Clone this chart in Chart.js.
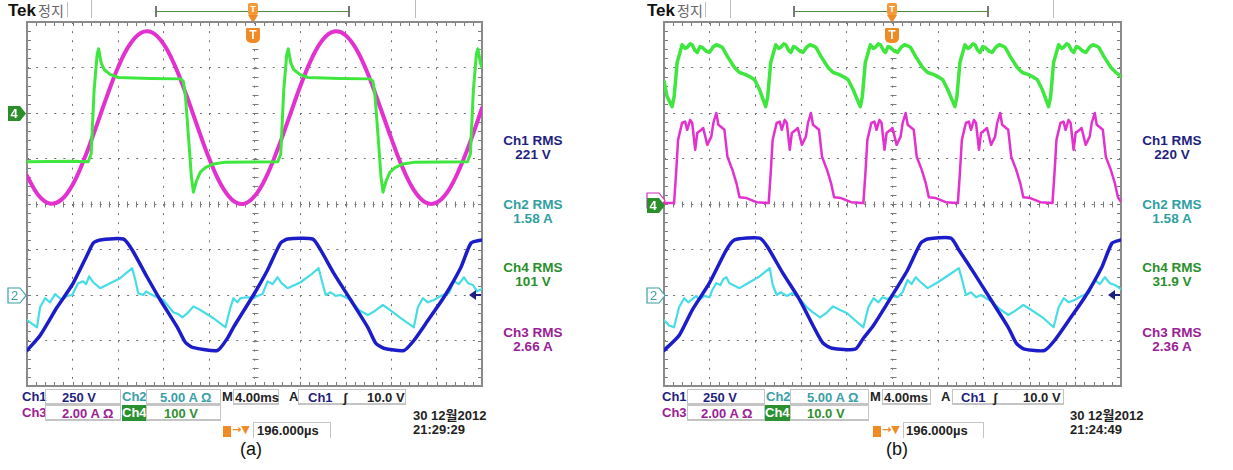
<!DOCTYPE html>
<html lang="ko">
<head>
<meta charset="utf-8">
<title>Tek 정지 - (a) / (b)</title>
<script src="https://cdn.jsdelivr.net/npm/chart.js@4.4.1/dist/chart.umd.min.js"></script>
<style>
  html, body { margin: 0; padding: 0; background: #fff; }
  #page { position: relative; width: 1233px; height: 470px; overflow: hidden; font-family: "Liberation Sans", "Noto Sans CJK KR", sans-serif; }
  .abs { position: absolute; white-space: nowrap; }
  .scope { position: absolute; top: 20px; }
  .tek { font: bold 17px/18px "Liberation Sans"; color: #111; top: 2px; }
  .stop { font: 14px/18px "Noto Sans CJK KR"; color: #666; top: 1px; }
  .vsep { position: absolute; top: 0; width: 1px; height: 18px; background: #bdbdbd; }
  .bracket { position: absolute; top: 6px; height: 11px; border-left: 2px solid #777; border-right: 2px solid #777; }
  .bracket::after { content: ""; position: absolute; left: 0; right: 0; top: 5px; height: 1px; background: #4f8a3f; }
  .pin { position: absolute; top: 3px; width: 10px; height: 12px; background: #f29a3a; color: #fff; font: bold 9px/12px "Liberation Sans"; text-align: center; border-radius: 2px; }
  .pin-tri { position: absolute; top: 15px; width: 0; height: 0; border-left: 5px solid transparent; border-right: 5px solid transparent; border-top: 8px solid #f08a24; }
  .tbox { position: absolute; top: 28px; width: 14px; height: 15px; background: #f08a24; color: #fff; font: bold 12px/15px "Liberation Sans"; text-align: center; border-radius: 1px 1px 5px 5px; z-index: 2; }
  .rms { font: bold 13.5px/14px "Liberation Sans"; text-align: center; width: 90px; }
  .lbl { font: bold 13px/16px "Liberation Sans"; }
  .box { position: absolute; height: 16px; border: 1px solid #c4c4c4; border-bottom-width: 2px; font: bold 13px/15px "Liberation Sans"; box-sizing: border-box; white-space: nowrap; }
  .box span { position: absolute; top: 0; }
  .date { font: bold 13px/14px "Liberation Sans", "Noto Sans CJK KR"; color: #222; }
  .cap { font: 18px/20px "Liberation Sans"; color: #111; }
  .ticon { position: absolute; width: 8px; height: 11px; background: #f08a24; }
  .orange { color: #f08a24; font: bold 11px/14px "DejaVu Sans"; }
  svg.mk { position: absolute; overflow: visible; z-index: 2; }
</style>
</head>
<body>
<div id="page">

  <!-- ===== panel (a) ===== -->
  <div class="abs tek" style="left:8px">Tek</div>
  <div class="abs stop" style="left:38px">정지</div>
  <div class="vsep" style="left:67px;top:2px;height:15px"></div>
  <div class="vsep" style="left:91px"></div>
  <div class="vsep" style="left:415px"></div>
  <div class="bracket" style="left:155px;width:191px"></div>
  <div class="pin" style="left:248px">T</div>
  <div class="pin-tri" style="left:248px"></div>
  <div class="tbox" style="left:246px">T</div>

  <div class="scope" style="left:25px"><canvas id="scopeA" width="459" height="368"></canvas></div>

  <svg class="mk" style="left:7px;top:105px" width="20" height="17">
    <polygon points="1,1 13,1 19,8.5 13,16 1,16" fill="#2a8f2a"/>
    <text x="7" y="13" fill="#fff" font-family="Liberation Sans" font-weight="bold" font-size="13" text-anchor="middle">4</text>
  </svg>
  <svg class="mk" style="left:7px;top:287px" width="20" height="17">
    <polygon points="1,1 13,1 19,8.5 13,16 1,16" fill="#fff" stroke="#3aa0a8" stroke-width="1.2"/>
    <text x="7.5" y="13" fill="#3aa0a8" font-family="Liberation Sans" font-size="13" text-anchor="middle">2</text>
  </svg>
  <svg class="mk" style="left:468px;top:289px" width="14" height="12">
    <polygon points="1,6 8,1 8,11" fill="#1f1f80"/>
    <line x1="7" y1="6" x2="13" y2="6" stroke="#1f1f80" stroke-width="2"/>
  </svg>

  <div class="abs rms" style="left:488px;top:134px;color:#1f1f80">Ch1 RMS<br>221 V</div>
  <div class="abs rms" style="left:488px;top:198px;color:#2f9fa3">Ch2 RMS<br>1.58 A</div>
  <div class="abs rms" style="left:488px;top:261px;color:#2a8f2a">Ch4 RMS<br>101 V</div>
  <div class="abs rms" style="left:488px;top:326px;color:#9a2096">Ch3 RMS<br>2.66 A</div>

  <div class="abs lbl" style="left:22px;top:389px;color:#1f1f80">Ch1</div>
  <div class="box" style="left:45px;top:389px;width:76px"><span style="left:16px;color:#1f1f80">250 V</span></div>
  <div class="abs lbl" style="left:122px;top:389px;color:#3aa0a8">Ch2</div>
  <div class="box" style="left:146px;top:389px;width:75px"><span style="left:13px;color:#3aa0a8">5.00 A Ω</span></div>
  <div class="abs lbl" style="left:222px;top:389px;color:#222">M</div>
  <div class="box" style="left:233px;top:389px;width:46px"><span style="left:1px;color:#222">4.00ms</span></div>
  <div class="abs lbl" style="left:289px;top:389px;color:#222">A</div>
  <div class="box" style="left:298px;top:389px;width:108px"><span style="left:9px;color:#1f1f80">Ch1</span><span style="left:44px;color:#222">ʃ</span><span style="left:68px;color:#222">10.0 V</span></div>

  <div class="abs lbl" style="left:22px;top:405px;color:#9a2096">Ch3</div>
  <div class="box" style="left:45px;top:405px;width:76px"><span style="left:16px;color:#9a2096">2.00 A Ω</span></div>
  <div class="abs lbl" style="left:122px;top:405px;width:24px;background:#2a9030;color:#fff">Ch4</div>
  <div class="box" style="left:146px;top:405px;width:75px"><span style="left:17px;color:#2f8f2f">100 V</span></div>

  <div class="ticon" style="left:223px;top:426px"></div>
  <div class="abs orange" style="left:232px;top:423px">→▼</div>
  <div class="box" style="left:253px;top:422px;width:78px;border-bottom:0"><span style="left:3px;color:#222">196.000µs</span></div>

  <div class="abs date" style="left:413px;top:409px">30 12월2012</div>
  <div class="abs date" style="left:413px;top:423px">21:29:29</div>
  <div class="abs cap" style="left:240px;top:439px">(a)</div>

  <!-- ===== panel (b) ===== -->
  <div class="abs tek" style="left:647px">Tek</div>
  <div class="abs stop" style="left:677px">정지</div>
  <div class="vsep" style="left:705px;top:2px;height:15px"></div>
  <div class="vsep" style="left:730px"></div>
  <div class="vsep" style="left:1053px"></div>
  <div class="bracket" style="left:793px;width:192px"></div>
  <div class="pin" style="left:887px">T</div>
  <div class="pin-tri" style="left:887px"></div>
  <div class="tbox" style="left:885px">T</div>

  <div class="scope" style="left:662px"><canvas id="scopeB" width="461" height="368"></canvas></div>

  <svg class="mk" style="left:646px;top:192px" width="20" height="17">
    <polygon points="1,1 13,1 19,8.5 13,16 1,16" fill="#fff" stroke="#d030c0" stroke-width="1.2"/>
  </svg>
  <svg class="mk" style="left:646px;top:197px" width="20" height="17">
    <polygon points="1,1 13,1 19,8.5 13,16 1,16" fill="#2a8f2a"/>
    <text x="7" y="13" fill="#fff" font-family="Liberation Sans" font-weight="bold" font-size="13" text-anchor="middle">4</text>
  </svg>
  <svg class="mk" style="left:646px;top:287px" width="20" height="17">
    <polygon points="1,1 13,1 19,8.5 13,16 1,16" fill="#fff" stroke="#3aa0a8" stroke-width="1.2"/>
    <text x="7.5" y="13" fill="#3aa0a8" font-family="Liberation Sans" font-size="13" text-anchor="middle">2</text>
  </svg>
  <svg class="mk" style="left:1107px;top:289px" width="14" height="12">
    <polygon points="1,6 8,1 8,11" fill="#1f1f80"/>
    <line x1="7" y1="6" x2="13" y2="6" stroke="#1f1f80" stroke-width="2"/>
  </svg>

  <div class="abs rms" style="left:1127px;top:134px;color:#1f1f80">Ch1 RMS<br>220 V</div>
  <div class="abs rms" style="left:1127px;top:198px;color:#2f9fa3">Ch2 RMS<br>1.58 A</div>
  <div class="abs rms" style="left:1127px;top:261px;color:#2a8f2a">Ch4 RMS<br>31.9 V</div>
  <div class="abs rms" style="left:1127px;top:326px;color:#9a2096">Ch3 RMS<br>2.36 A</div>

  <div class="abs lbl" style="left:662px;top:389px;color:#1f1f80">Ch1</div>
  <div class="box" style="left:687px;top:389px;width:78px"><span style="left:15px;color:#1f1f80">250 V</span></div>
  <div class="abs lbl" style="left:766px;top:389px;color:#3aa0a8">Ch2</div>
  <div class="box" style="left:790px;top:389px;width:79px"><span style="left:16px;color:#3aa0a8">5.00 A Ω</span></div>
  <div class="abs lbl" style="left:870px;top:389px;color:#222">M</div>
  <div class="box" style="left:882px;top:389px;width:49px"><span style="left:1px;color:#222">4.00ms</span></div>
  <div class="abs lbl" style="left:941px;top:389px;color:#222">A</div>
  <div class="box" style="left:952px;top:389px;width:112px"><span style="left:8px;color:#1f1f80">Ch1</span><span style="left:40px;color:#222">ʃ</span><span style="left:70px;color:#222">10.0 V</span></div>

  <div class="abs lbl" style="left:662px;top:405px;color:#9a2096">Ch3</div>
  <div class="box" style="left:687px;top:405px;width:78px"><span style="left:13px;color:#9a2096">2.00 A Ω</span></div>
  <div class="abs lbl" style="left:765px;top:405px;width:25px;background:#2a9030;color:#fff">Ch4</div>
  <div class="box" style="left:790px;top:405px;width:79px"><span style="left:16px;color:#2f8f2f">10.0 V</span></div>

  <div class="ticon" style="left:873px;top:426px"></div>
  <div class="abs orange" style="left:882px;top:423px">→▼</div>
  <div class="box" style="left:903px;top:422px;width:81px;border-bottom:0"><span style="left:2px;color:#222">196.000µs</span></div>

  <div class="abs date" style="left:1070px;top:409px">30 12월2012</div>
  <div class="abs date" style="left:1070px;top:423px">21:24:49</div>
  <div class="abs cap" style="left:886px;top:439px">(b)</div>
</div>

<script>
// Tiempo en ms (4.00 ms/div, centro = 0), valores en divisiones de pantalla (-4 .. 4)

// ---- panel (a) ----
const ch1a = [[-20,-3.22],[-18.85,-2.89],[-17.36,-2.27],[-16.03,-1.78],[-14.71,-1.12],[-14.18,-0.86],[-13.57,-0.79],[-11.54,-0.77],[-10.75,-1.01],[-9.43,-1.61],[-8.28,-2.11],[-6.78,-2.71],[-6.08,-3.04],[-5.46,-3.15],[-3.26,-3.22],[-2.38,-2.95],[-1.85,-2.71],[-0.09,-2.0],[1.15,-1.45],[2.29,-0.86],[2.91,-0.77],[5.11,-0.77],[5.81,-1.01],[6.96,-1.52],[8.46,-2.11],[9.96,-2.71],[10.66,-3.06],[11.36,-3.17],[13.13,-3.22],[14.01,-3.0],[15.24,-2.56],[16.65,-2.05],[18.15,-1.39],[19.03,-0.86],[20,-0.79]];

const ch2a = [[-20,-2.55],[-19.12,-2.71],[-18.85,-2.27],[-18.41,-2.07],[-17.97,-2.16],[-17.53,-1.98],[-16.92,-2.11],[-16.47,-2.02],[-16.03,-2.0],[-15.51,-1.74],[-15.06,-1.70],[-14.8,-1.76],[-14.54,-1.59],[-14.18,-1.72],[-13.57,-1.85],[-12.69,-1.74],[-11.81,-1.63],[-10.75,-1.41],[-10.48,-1.67],[-10.22,-1.96],[-9.78,-2.0],[-9.52,-1.92],[-9.16,-1.98],[-8.55,-2.05],[-8.02,-2.11],[-7.14,-2.38],[-6.7,-2.42],[-6.34,-2.49],[-5.9,-2.40],[-5.37,-2.25],[-4.76,-2.33],[-3.61,-2.51],[-2.55,-2.71],[-2.11,-2.27],[-1.85,-2.07],[-1.5,-2.16],[-1.23,-2.07],[-0.62,-2.05],[-0.09,-2.07],[0.26,-2.02],[0.7,-1.98],[1.15,-1.70],[1.59,-1.76],[2.03,-1.61],[2.38,-1.74],[2.91,-1.85],[4.05,-1.72],[4.93,-1.56],[5.64,-1.41],[5.9,-1.67],[6.26,-2.0],[6.7,-1.94],[7.14,-2.02],[7.58,-2.0],[8.46,-2.11],[9.16,-2.33],[9.96,-2.44],[10.4,-2.38],[11.28,-2.22],[11.81,-2.31],[12.86,-2.51],[14.01,-2.71],[14.36,-2.27],[14.8,-2.07],[15.24,-2.16],[15.77,-2.11],[16.39,-2.02],[17.09,-1.96],[17.53,-1.70],[17.97,-1.76],[18.41,-1.61],[18.77,-1.74],[19.21,-1.78],[19.56,-1.92],[20,-1.87]];

const ch3a = [[-20,0.62],[-19,0.19],[-18,0.01],[-17,0.09],[-16,0.42],[-15,0.97],[-14,1.64],[-13,2.35],[-12,3.00],[-11,3.49],[-10,3.76],[-9,3.77],[-8,3.52],[-7,3.04],[-6,2.40],[-5,1.69],[-4,1.01],[-3,0.45],[-2,0.10],[-1,0.00],[0,0.17],[1,0.58],[2,1.18],[3,1.87],[4,2.57],[5,3.18],[6,3.61],[7,3.79],[8,3.71],[9,3.38],[10,2.84],[11,2.16],[12,1.46],[13,0.81],[14,0.31],[15,0.04],[16,0.03],[17,0.28],[18,0.76],[19,1.39],[20,2.11]];

const ch4a = [[-20,0.93],[-16,0.94],[-14.62,0.93],[-14.36,1.1],[-14.1,2.5],[-13.83,3.3],[-13.7,3.41],[-13.48,3.1],[-13.2,2.95],[-12.69,2.85],[-11.98,2.78],[-9.16,2.76],[-6.52,2.75],[-6.26,2.7],[-6.08,2.4],[-5.81,1.5],[-5.55,0.6],[-5.37,0.26],[-5.11,0.5],[-4.76,0.7],[-4.32,0.8],[-3.61,0.88],[-2.55,0.92],[2.05,0.93],[2.31,1.1],[2.57,2.5],[2.84,3.3],[2.97,3.41],[3.19,3.1],[3.47,2.95],[3.98,2.85],[4.69,2.78],[7.51,2.76],[10.15,2.75],[10.41,2.7],[10.59,2.4],[10.86,1.5],[11.12,0.6],[11.3,0.26],[11.56,0.5],[11.91,0.7],[12.35,0.8],[13.06,0.88],[14.12,0.92],[18.72,0.93],[18.98,1.1],[19.24,2.5],[19.51,3.3],[19.64,3.41],[19.86,3.1],[20,3.0]];

// ---- panel (b) ----
const ch1b = [[-20,-3.22],[-18.68,-2.89],[-17.53,-2.33],[-16.03,-1.74],[-14.54,-1.01],[-13.83,-0.79],[-11.63,-0.75],[-10.92,-0.95],[-9.6,-1.52],[-8.11,-2.11],[-6.96,-2.67],[-6.08,-3.06],[-5.29,-3.17],[-3.26,-3.19],[-2.55,-2.95],[-1.67,-2.67],[0,-2.0],[1.32,-1.45],[2.47,-0.86],[3.08,-0.77],[5.11,-0.75],[5.81,-1.01],[7.14,-1.52],[8.63,-2.11],[10.13,-2.71],[10.84,-3.06],[11.54,-3.19],[13.3,-3.22],[14.18,-3.0],[15.42,-2.56],[16.83,-2.05],[18.32,-1.39],[19.21,-0.86],[20,-0.79]];

const ch2b = [[-20,-2.55],[-19.56,-2.67],[-19.12,-2.71],[-18.68,-2.27],[-18.24,-2.07],[-17.88,-2.16],[-17.53,-2.09],[-17.18,-2.02],[-16.92,-2.11],[-16.47,-2.02],[-16.03,-2.05],[-15.77,-1.89],[-15.42,-1.74],[-15.06,-1.78],[-14.8,-1.65],[-14.54,-1.61],[-14.27,-1.74],[-13.39,-1.85],[-12.51,-1.72],[-11.63,-1.59],[-10.75,-1.41],[-10.48,-1.78],[-10.13,-2.0],[-9.78,-1.94],[-9.25,-2.02],[-8.81,-1.96],[-8.37,-2.02],[-7.93,-2.14],[-7.49,-2.27],[-6.96,-2.38],[-6.34,-2.49],[-5.81,-2.40],[-5.2,-2.25],[-4.58,-2.33],[-3.96,-2.40],[-3.26,-2.56],[-2.55,-2.71],[-2.11,-2.27],[-1.67,-2.07],[-1.23,-2.16],[-0.88,-2.05],[-0.44,-2.09],[0,-2.02],[0.44,-2.05],[0.88,-1.94],[1.32,-1.67],[1.67,-1.76],[2.03,-1.61],[2.47,-1.72],[3.08,-1.85],[3.96,-1.72],[4.93,-1.56],[5.81,-1.41],[6.17,-1.74],[6.43,-2.0],[6.87,-1.94],[7.31,-2.05],[7.75,-2.0],[8.63,-2.14],[9.51,-2.33],[10.13,-2.44],[10.66,-2.36],[11.45,-2.22],[12.16,-2.33],[13.22,-2.51],[14.1,-2.71],[14.54,-2.27],[14.98,-2.07],[15.42,-2.16],[15.95,-2.11],[16.56,-2.02],[17.18,-1.96],[17.71,-1.67],[18.15,-1.76],[18.59,-1.61],[19.03,-1.74],[19.47,-1.78],[20,-1.87]];

const ch3b = [[-20,0.02],[-19.12,0.02],[-18.94,0.68],[-18.77,1.41],[-18.42,1.78],[-18.15,1.81],[-17.97,1.63],[-17.71,1.85],[-17.53,1.78],[-17.27,1.19],[-17.09,1.56],[-16.74,1.63],[-16.57,1.67],[-16.21,1.30],[-15.86,1.48],[-15.68,1.78],[-15.42,2.0],[-15.24,1.74],[-14.71,1.63],[-14.45,1.04],[-14.01,0.75],[-13.66,0.46],[-13.39,0.15],[-12.78,0.13],[-11.9,0.04],[-10.93,0.02],
  [-10.84,0.02],[-10.66,0.68],[-10.49,1.41],[-10.14,1.78],[-9.87,1.81],[-9.69,1.63],[-9.43,1.85],[-9.25,1.78],[-8.99,1.19],[-8.81,1.56],[-8.46,1.63],[-8.29,1.67],[-7.93,1.30],[-7.58,1.48],[-7.4,1.78],[-7.14,2.0],[-6.96,1.74],[-6.43,1.63],[-6.17,1.04],[-5.73,0.75],[-5.38,0.46],[-5.11,0.15],[-4.5,0.13],[-3.62,0.04],[-2.65,0.02],
  [-2.55,0.02],[-2.37,0.68],[-2.2,1.41],[-1.85,1.78],[-1.58,1.81],[-1.4,1.63],[-1.14,1.85],[-0.96,1.78],[-0.7,1.19],[-0.52,1.56],[-0.17,1.63],[0,1.67],[0.36,1.30],[0.71,1.48],[0.89,1.78],[1.15,2.0],[1.33,1.74],[1.86,1.63],[2.12,1.04],[2.56,0.75],[2.91,0.46],[3.18,0.15],[3.79,0.13],[4.67,0.04],[5.64,0.02],
  [5.72,0.02],[5.9,0.68],[6.07,1.41],[6.42,1.78],[6.69,1.81],[6.87,1.63],[7.13,1.85],[7.31,1.78],[7.57,1.19],[7.75,1.56],[8.1,1.63],[8.27,1.67],[8.63,1.30],[8.98,1.48],[9.16,1.78],[9.42,2.0],[9.6,1.74],[10.13,1.63],[10.39,1.04],[10.83,0.75],[11.18,0.46],[11.45,0.15],[12.06,0.13],[12.94,0.04],[13.91,0.02],
  [14.0,0.02],[14.18,0.68],[14.35,1.41],[14.7,1.78],[14.97,1.81],[15.15,1.63],[15.41,1.85],[15.59,1.78],[15.85,1.19],[16.03,1.56],[16.38,1.63],[16.55,1.67],[16.91,1.30],[17.26,1.48],[17.44,1.78],[17.7,2.0],[17.88,1.74],[18.41,1.63],[18.67,1.04],[19.11,0.75],[19.46,0.46],[19.73,0.15],[20,0.05]];

const ch4b = [[-20,2.70],[-19.73,2.36],[-19.29,2.14],[-19.11,2.36],[-18.85,3.11],[-18.41,3.50],[-18.15,3.42],[-17.97,3.44],[-17.71,3.52],[-17.53,3.50],[-17.3,3.38],[-17.09,3.33],[-16.85,3.46],[-16.65,3.44],[-16.3,3.36],[-16.03,3.33],[-15.7,3.45],[-15.41,3.50],[-15.1,3.47],[-14.89,3.44],[-14.44,3.24],[-13.83,3.0],[-13.39,2.89],[-12.9,2.85],[-12.51,2.80],[-12.07,2.73],[-11.63,2.51],[-11.1,2.14],
  [-10.92,2.36],[-10.66,3.11],[-10.22,3.50],[-9.96,3.42],[-9.78,3.44],[-9.52,3.52],[-9.34,3.50],[-9.1,3.38],[-8.9,3.33],[-8.66,3.46],[-8.46,3.44],[-8.1,3.36],[-7.84,3.33],[-7.5,3.45],[-7.22,3.50],[-6.9,3.47],[-6.7,3.44],[-6.25,3.24],[-5.64,3.0],[-5.2,2.89],[-4.7,2.85],[-4.32,2.80],[-3.88,2.73],[-3.44,2.51],[-2.82,2.14],
  [-2.64,2.36],[-2.38,3.11],[-1.94,3.50],[-1.68,3.42],[-1.5,3.44],[-1.24,3.52],[-1.06,3.50],[-0.8,3.38],[-0.62,3.33],[-0.38,3.46],[-0.18,3.44],[0.18,3.36],[0.44,3.33],[0.78,3.45],[1.06,3.50],[1.38,3.47],[1.58,3.44],[2.03,3.24],[2.64,3.0],[3.08,2.89],[3.58,2.85],[3.96,2.80],[4.4,2.73],[4.84,2.51],[5.46,2.14],
  [5.64,2.36],[5.9,3.11],[6.34,3.50],[6.6,3.42],[6.78,3.44],[7.04,3.52],[7.22,3.50],[7.46,3.38],[7.66,3.33],[7.9,3.46],[8.1,3.44],[8.46,3.36],[8.72,3.33],[9.06,3.45],[9.34,3.50],[9.66,3.47],[9.86,3.44],[10.31,3.24],[10.92,3.0],[11.36,2.89],[11.86,2.85],[12.24,2.80],[12.68,2.73],[13.12,2.51],[13.66,2.14],
  [13.84,2.36],[14.1,3.11],[14.54,3.50],[14.8,3.42],[14.98,3.44],[15.24,3.52],[15.42,3.50],[15.66,3.38],[15.86,3.33],[16.1,3.46],[16.3,3.44],[16.66,3.36],[16.92,3.33],[17.26,3.45],[17.54,3.50],[17.86,3.47],[18.06,3.44],[18.51,3.24],[19.12,3.0],[19.56,2.89],[20,2.80]];

// Colores de canal
const colorCh1 = '#1c1cc8';
const colorCh2 = '#48dce6';
const colorCh3 = '#e231cf';
const colorCh4 = '#3ee63e';

// Retícula del osciloscopio: marco y marcas menores (5 por división)
const graticule = {
  id: 'graticule',
  beforeDatasetsDraw(chart) {
    const { ctx, chartArea: a, scales: { x, y } } = chart;
    const x0 = Math.round(x.getPixelForValue(0)) + 0.5;
    const y0 = Math.round(y.getPixelForValue(0)) + 0.5;
    ctx.save();
    ctx.strokeStyle = '#7a7a7a';
    ctx.lineWidth = 1;
    ctx.beginPath();
    for (let k = 0; k <= 50; k++) {
      const px = Math.round(x.getPixelForValue(-20 + k * 0.8)) + 0.5;
      ctx.moveTo(px, y0 - 3); ctx.lineTo(px, y0 + 3);
      ctx.moveTo(px, a.top); ctx.lineTo(px, a.top + 4);
      ctx.moveTo(px, a.bottom - 4); ctx.lineTo(px, a.bottom);
    }
    for (let k = 0; k <= 40; k++) {
      const py = Math.round(y.getPixelForValue(-4 + k * 0.2)) + 0.5;
      ctx.moveTo(x0 - 3, py); ctx.lineTo(x0 + 3, py);
      ctx.moveTo(a.left, py); ctx.lineTo(a.left + 4, py);
      ctx.moveTo(a.right - 4, py); ctx.lineTo(a.right, py);
    }
    ctx.stroke();
    ctx.lineWidth = 2;
    ctx.strokeStyle = '#8a8a8a';
    ctx.strokeRect(a.left, a.top, a.right - a.left, a.bottom - a.top);
    ctx.restore();
  }
};

function serie(points, color, width, tension) {
  return {
    data: points.map(p => ({ x: p[0], y: p[1] })),
    borderColor: color,
    borderWidth: width,
    tension: tension || 0,
    pointRadius: 0,
    fill: false,
    borderJoinStyle: 'round',
    borderCapStyle: 'round'
  };
}

function crearScope(id, datasets) {
  const eje = (min, max, step) => ({
    type: 'linear', min, max,
    ticks: { display: false, stepSize: step },
    grid: { color: '#707070', lineWidth: 1, drawTicks: false },
    border: { display: false, dash: [2, 7.1] }
  });
  return new Chart(document.getElementById(id), {
    type: 'line',
    data: { datasets },
    options: {
      responsive: false,
      animation: false,
      devicePixelRatio: 1,
      layout: { padding: 2 },
      plugins: { legend: { display: false }, tooltip: { enabled: false } },
      scales: { x: eje(-20, 20, 4), y: eje(-4, 4, 1) }
    },
    plugins: [graticule]
  });
}

document.addEventListener('DOMContentLoaded', () => {
  // el dataset 0 se dibuja encima
  crearScope('scopeA', [
    serie(ch4a, colorCh4, 3),
    serie(ch3a, colorCh3, 4, 0.4),
    serie(ch1a, colorCh1, 3.5, 0.2),
    serie(ch2a, colorCh2, 2.2)
  ]);
  crearScope('scopeB', [
    serie(ch4b, colorCh4, 3.5),
    serie(ch3b, colorCh3, 2.5),
    serie(ch1b, colorCh1, 3.5, 0.2),
    serie(ch2b, colorCh2, 2.2)
  ]);
});
</script>
</body>
</html>
